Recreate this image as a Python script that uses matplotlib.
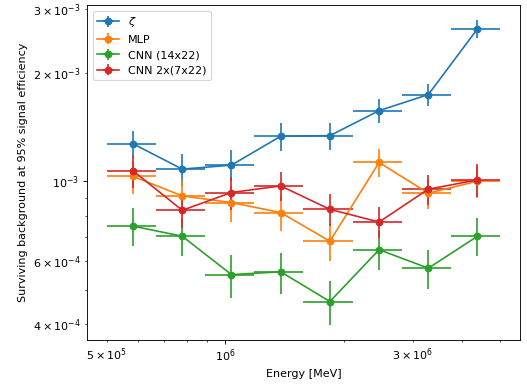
import numpy as np
import matplotlib
matplotlib.use("Agg")
import matplotlib.pyplot as plt
from matplotlib.ticker import FuncFormatter

# Energy bin edges [MeV]
bin_edges = [5.0e5, 6.67e5, 8.89e5, 1.186e6, 1.581e6, 2.109e6, 2.812e6, 3.75e6, 5.0e6]

labels = [r"$\zeta$", "MLP", "CNN (14x22)", "CNN 2x(7x22)"]

zeta_vals = [1.27e-3, 1.08e-3, 1.108e-3, 1.333e-3, 1.338e-3, 1.57e-3, 1.74e-3, 2.65e-3]
zeta_errs = [0.11e-3, 0.11e-3, 0.11e-3, 0.12e-3, 0.115e-3, 0.12e-3, 0.12e-3, 0.15e-3]

mlp_vals = [1.031e-3, 0.91e-3, 0.872e-3, 0.818e-3, 0.681e-3, 1.127e-3, 0.926e-3, 1.0e-3]
mlp_errs = [0.11e-3, 0.1e-3, 0.1e-3, 0.09e-3, 0.08e-3, 0.1e-3, 0.09e-3, 0.1e-3]

cnn14_vals = [0.75e-3, 0.703e-3, 0.55e-3, 0.56e-3, 0.463e-3, 0.645e-3, 0.573e-3, 0.703e-3]
cnn14_errs = [0.09e-3, 0.085e-3, 0.075e-3, 0.073e-3, 0.064e-3, 0.08e-3, 0.07e-3, 0.085e-3]

cnn2x_vals = [1.068e-3, 0.83e-3, 0.93e-3, 0.97e-3, 0.835e-3, 0.77e-3, 0.95e-3, 1.008e-3]
cnn2x_errs = [0.11e-3, 0.09e-3, 0.1e-3, 0.09e-3, 0.085e-3, 0.075e-3, 0.09e-3, 0.105e-3]

x_minor_labels = {5e5: r"$\mathdefault{5\times10^{5}}$", 3e6: r"$\mathdefault{3\times10^{6}}$"}

edges = np.array(bin_edges)
centers = 0.5 * (edges[:-1] + edges[1:])
half_w = 0.5 * (edges[1:] - edges[:-1])

fig = plt.figure(figsize=(527 / 80, 384 / 80), dpi=80)
ax = fig.add_axes([87 / 527, 1 - 340 / 384, (520 - 87) / 527, (340 - 5) / 384])

series = [(zeta_vals, zeta_errs), (mlp_vals, mlp_errs),
          (cnn14_vals, cnn14_errs), (cnn2x_vals, cnn2x_errs)]
for (v, e), lab in zip(series, labels):
    ax.errorbar(centers, v, xerr=half_w, yerr=e, marker="o", label=lab)

ax.set_xscale("log")
ax.set_yscale("log")


def minor_fmt(x, pos):
    for k, s in x_minor_labels.items():
        if abs(x - k) / k < 1e-6:
            return s
    return ""


ax.xaxis.set_minor_formatter(FuncFormatter(minor_fmt))
ax.set_xlabel("Energy [MeV]")
ax.set_ylabel("Surviving background at 95% signal efficiency")
ax.legend(loc="upper left")

fig.savefig("out.png", dpi=80)
